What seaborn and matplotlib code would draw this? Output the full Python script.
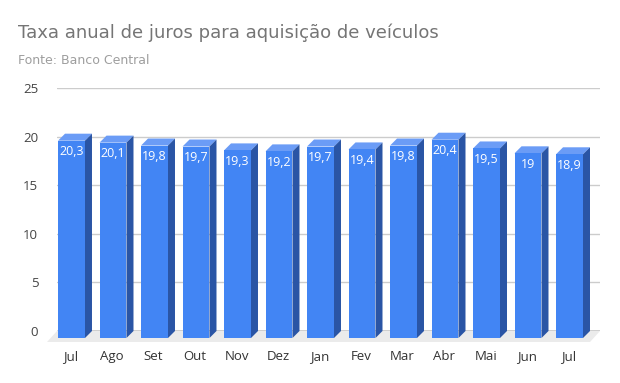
import numpy as np
import pandas as pd
import seaborn as sns
import matplotlib.pyplot as plt
from matplotlib.patches import Polygon
from matplotlib.transforms import ScaledTranslation, IdentityTransform

# Data
months = ["Jul", "Ago", "Set", "Out", "Nov", "Dez", "Jan", "Fev", "Mar", "Abr", "Mai", "Jun", "Jul"]
rates = [20.3, 20.1, 19.8, 19.7, 19.3, 19.2, 19.7, 19.4, 19.8, 20.4, 19.5, 19.0, 18.9]
yticks = [0, 5, 10, 15, 20, 25]

front_col = "#4285f4"
side_col = "#2a55a5"
top_col = "#6b9cf6"
depth = 7  # px of the 3d effect

sns.set_style("white")
plt.rcParams['font.family'] = ['Open Sans', 'DejaVu Sans']

W, H = 620, 383
fig = plt.figure(figsize=(W / 100, H / 100), dpi=100)
ax = fig.add_axes([57 / W, (H - 331) / H, 543 / W, 243 / H])

# two "Jul" months -> use position index as category
df = pd.DataFrame({'pos': range(len(months)), 'taxa': rates})
sns.barplot(data=df, x='pos', y='taxa', color=front_col, width=0.65,
            saturation=1, linewidth=0, ax=ax, zorder=4)

ax.set_xlim(-0.518, 12.566)
ax.set_ylim(0, 25)
ax.set_yticks(yticks)
ax.yaxis.grid(True, color="#cccccc", lw=1)
ax.set_axisbelow(True)
for s in ax.spines.values():
    s.set_visible(False)
ax.tick_params(axis='y', length=0, pad=13.5, labelsize=9.5, labelcolor="#444444")
ax.tick_params(axis='x', length=0, pad=14, labelsize=9.5, labelcolor="#333333")
ax.set_xticks(np.arange(len(months)) - 0.19, months)
ax.set_xlabel("")
ax.set_ylabel("")

# floor of the 3d box
bl = ax.transAxes.transform((0, 0))
br = ax.transAxes.transform((1, 0))
floor = Polygon([bl, br, br + [-10, -11], bl + [-10, -11]], closed=True,
                transform=IdentityTransform(), facecolor="#ebebeb",
                edgecolor="none", zorder=1, clip_on=False)
ax.add_patch(floor)
ax.axhline(0, color="#333333", lw=1, zorder=2)

shift = ScaledTranslation(-depth / 100, -depth / 100, fig.dpi_scale_trans)
off = np.array([-depth, -depth])
for p, v in zip(ax.containers[0], rates):
    x0 = p.get_x()
    x1 = x0 + p.get_width()
    h = p.get_height()
    b_tl, b_tr, b_br = ax.transData.transform([(x0, h), (x1, h), (x1, 0)])
    top = Polygon([b_tl + off, b_tr + off, b_tr, b_tl], closed=True,
                  transform=IdentityTransform(), facecolor=top_col,
                  edgecolor="none", zorder=3, clip_on=False)
    side = Polygon([b_br + off, b_tr + off, b_tr, b_br], closed=True,
                   transform=IdentityTransform(), facecolor=side_col,
                   edgecolor="none", zorder=3, clip_on=False)
    ax.add_patch(top)
    ax.add_patch(side)
    p.set_transform(ax.transData + shift)
    p.set_clip_on(False)
    ax.annotate(f"{v:g}".replace(".", ","), ((x0 + x1) / 2, h),
                xytext=(-depth, -18), textcoords='offset pixels',
                ha='center', va='center', color='white', fontsize=9,
                zorder=6, annotation_clip=False)

fig.text(18 / W, 1 - 33 / H, "Taxa anual de juros para aquisição de veículos",
         fontsize=13, color="#757575", va='center', ha='left',
         family=['DejaVu Sans'])
fig.text(18 / W, 1 - 61 / H, "Fonte: Banco Central",
         fontsize=9, color="#9e9e9e", va='center', ha='left',
         family=['DejaVu Sans'])

fig.savefig("out.png", dpi=100)
